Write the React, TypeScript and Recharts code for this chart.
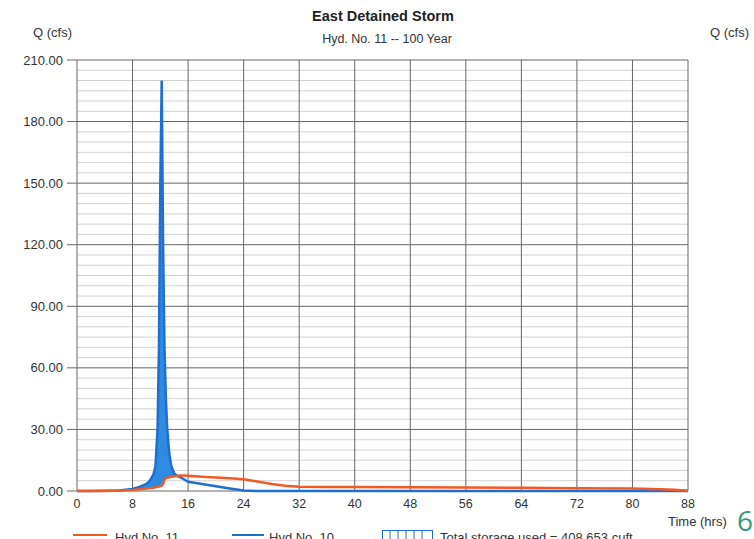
import React from 'react';
import { ComposedChart, Line, Area, XAxis, YAxis, CartesianGrid } from 'recharts';

// time in hours
const TIME = [0, 2, 4, 6, 8, 9, 10, 10.5, 11, 11.3, 11.6, 11.8, 12.0, 12.2, 12.4, 12.6, 12.8, 13.0, 13.3, 13.6, 14.0, 14.5, 15.0, 15.5, 16, 18, 20, 22, 24, 26, 28, 30, 32, 36, 40, 48, 56, 64, 72, 80, 84, 86, 88];

// Hyd No. 10 (inflow, cfs)
const HYD_10 = [0, 0, 0.1, 0.3, 1.0, 2.0, 3.5, 5, 8, 12, 30, 70, 150, 200, 120, 70, 45, 30, 18, 12, 8.5, 7.2, 6.5, 5.5, 4.5, 3.4, 2.3, 1.2, 0.2, 0, 0, 0, 0, 0, 0, 0, 0, 0, 0, 0, 0, 0, 0];

// Hyd No. 11 (outflow, cfs)
const HYD_11 = [0, 0, 0.05, 0.2, 0.5, 0.8, 1.2, 1.4, 1.6, 1.8, 2.0, 2.2, 2.4, 2.6, 3.5, 5.5, 6.2, 6.5, 6.7, 6.9, 7.2, 7.4, 7.5, 7.5, 7.4, 7.0, 6.6, 6.2, 5.7, 4.6, 3.4, 2.6, 2.1, 2.0, 1.9, 1.8, 1.7, 1.6, 1.4, 1.2, 0.9, 0.6, 0.1];

const X_TICKS = [0, 8, 16, 24, 32, 40, 48, 56, 64, 72, 80, 88];
const Y_TICKS = [0, 30, 60, 90, 120, 150, 180, 210];
const MINOR_Y = [5, 10, 15, 20, 25, 35, 40, 45, 50, 55, 65, 70, 75, 80, 85, 95, 100, 105, 110, 115, 125, 130, 135, 140, 145, 155, 160, 165, 170, 175, 185, 190, 195, 200, 205];

const data = TIME.map((t, i) => ({
  t,
  inflow: HYD_10[i],
  outflow: HYD_11[i],
  storage: [HYD_11[i], Math.max(HYD_10[i], HYD_11[i])],
}));

const FONT = '"Liberation Sans", Arial, sans-serif';
const BLUE = '#1f6fd1';
const FILL = '#2f8be2';
const RED = '#f05a24';
const yTick = { fill: '#333', fontSize: 13, fontFamily: FONT };
const xTick = { fill: '#333', fontSize: 12.5, fontFamily: FONT };

export default function App() {
  return (
    <div style={{ position: 'absolute', left: 0, top: 0, width: 754, height: 539, background: '#fff', overflow: 'hidden', fontFamily: FONT, color: '#333' }}>
      <ComposedChart width={754} height={539} data={data} margin={{ top: 60, right: 0, left: 0, bottom: 0 }}>
        <CartesianGrid yAxisId="left" vertical={false} horizontalValues={MINOR_Y} stroke="#d2d2d2" strokeWidth={1} />
        <CartesianGrid yAxisId="left" stroke="#666" strokeWidth={1} />
        <XAxis
          dataKey="t"
          type="number"
          domain={[0, 88]}
          ticks={X_TICKS}
          height={48}
          axisLine={false}
          tickLine={false}
          tickSize={0}
          tickMargin={8}
          tick={xTick}
          interval={0}
        />
        <YAxis
          yAxisId="left"
          domain={[0, 210]}
          ticks={Y_TICKS}
          width={77}
          axisLine={false}
          tickSize={10}
          tickMargin={4}
          tickLine={{ stroke: '#666' }}
          tick={yTick}
          tickFormatter={(v) => Number(v).toFixed(2)}
          interval={0}
        />
        <YAxis
          yAxisId="right"
          orientation="right"
          domain={[0, 210]}
          ticks={Y_TICKS}
          width={66}
          axisLine={false}
          tickSize={10}
          tickMargin={5}
          tickLine={{ stroke: '#666' }}
          tick={yTick}
          tickFormatter={(v) => Number(v).toFixed(2)}
          interval={0}
        />
        <Area yAxisId="left" dataKey="storage" type="linear" fill={FILL} fillOpacity={1} stroke="none" isAnimationActive={false} />
        <Line yAxisId="left" dataKey="inflow" type="linear" stroke={BLUE} strokeWidth={2.5} dot={false} isAnimationActive={false} />
        <Line yAxisId="left" dataKey="outflow" type="linear" stroke={RED} strokeWidth={2.5} dot={false} isAnimationActive={false} />
      </ComposedChart>

      <div style={{ position: 'absolute', left: 0, width: 766, top: 8, textAlign: 'center', fontSize: 14.5, fontWeight: 'bold', color: '#222' }}>
        East Detained Storm
      </div>
      <div style={{ position: 'absolute', left: 0, width: 774, top: 32, textAlign: 'center', fontSize: 12.5 }}>
        Hyd. No. 11 -- 100 Year
      </div>
      <div style={{ position: 'absolute', left: 33, top: 25, fontSize: 13 }}>Q (cfs)</div>
      <div style={{ position: 'absolute', left: 710, top: 25, fontSize: 13, whiteSpace: 'nowrap' }}>Q (cfs)</div>
      <div style={{ position: 'absolute', left: 668, top: 514, fontSize: 13, whiteSpace: 'nowrap' }}>Time (hrs)</div>
      <div style={{ position: 'absolute', left: 737, top: 501, fontSize: 28, color: '#2a9d7c', fontFamily: '"Open Sans", sans-serif', fontWeight: 400 }}>6</div>

      <div style={{ position: 'absolute', left: 73, top: 534, width: 34, height: 2, background: RED }} />
      <div style={{ position: 'absolute', left: 115, top: 530, fontSize: 13, whiteSpace: 'nowrap' }}>Hyd No. 11</div>
      <div style={{ position: 'absolute', left: 232, top: 534, width: 32, height: 2, background: BLUE }} />
      <div style={{ position: 'absolute', left: 269, top: 530, fontSize: 13, whiteSpace: 'nowrap' }}>Hyd No. 10</div>
      <svg style={{ position: 'absolute', left: 382, top: 530 }} width={52} height={12}>
        <rect x={0.5} y={0.5} width={50} height={11} fill="#fff" stroke={BLUE} strokeWidth={1} />
        {[8, 16, 24, 32, 40].map((x) => (
          <line key={x} x1={x} x2={x} y1={1} y2={11} stroke={BLUE} strokeWidth={1} />
        ))}
      </svg>
      <div style={{ position: 'absolute', left: 440, top: 530, fontSize: 13, whiteSpace: 'nowrap' }}>Total storage used = 408,653 cuft</div>
    </div>
  );
}
